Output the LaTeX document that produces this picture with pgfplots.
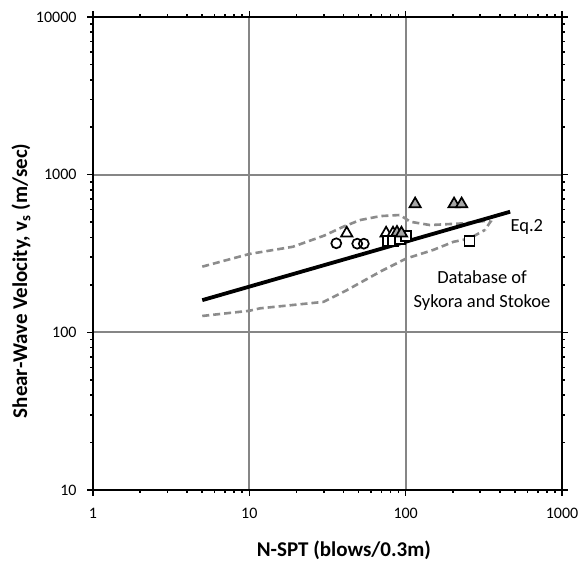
\documentclass[border=0pt]{standalone}
\usepackage{pgfplots}
\pgfplotsset{compat=1.18}
\usepackage{fontspec}
\setmainfont{Carlito}
\definecolor{gridgray}{RGB}{134,134,134}
\definecolor{dashgray}{RGB}{140,140,140}
\definecolor{markgray}{RGB}{166,166,166}
\begin{document}
\begin{tikzpicture}
\begin{axis}[
  scale only axis,
  width=469pt, height=473pt,
  xmode=log, ymode=log,
  xmin=1, xmax=1000, ymin=10, ymax=10000,
  xtick={1,10,100,1000}, xticklabels={1,10,100,1000},
  ytick={10,100,1000,10000}, yticklabels={10,100,1000,10000},
  minor tick num=0,
  minor xtick={}, minor ytick={},
  /pgf/number format/assume math mode=true,
  tick label style={font=\fontsize{16}{18}\selectfont},
  xticklabel style={yshift=-9pt},
  yticklabel style={xshift=-7pt},
  tick align=outside,
  major tick length=6pt,
  tick style={black, line width=1.6pt},
  axis line style={black, line width=2.6pt},
  grid=major,
  major grid style={gridgray, line width=1.9pt},
  xlabel={\bfseries N-SPT (blows/0.3m)},
  ylabel={\bfseries Shear-Wave Velocity, v\textsubscript{s} (m/sec)},
  label style={font=\fontsize{21}{24}\selectfont},
  xlabel style={at={(axis description cs:0.535,-0.127)}, anchor=center},
  ylabel style={at={(axis description cs:-0.1535,0.442)}, anchor=center},
  clip=false,
]
% upper boundary of database
\addplot[dashgray, line width=2.6pt, dash pattern=on 7pt off 4pt] coordinates {
 (5,261) (10,314) (19,349) (30,410) (40,468) (51,515) (69,546) (92,555)
 (107,503) (143,479) (233,491) (330,510) (349,503) (340,485) (322,446)
};
% lower boundary of database
\addplot[dashgray, line width=2.6pt, dash pattern=on 7pt off 4pt] coordinates {
 (5,127) (10,137) (11.7,142) (29.8,156) (42,185) (70,245) (101,294)
 (150,333) (202,375) (257,394) (313,440) (322,446)
};
% Eq.2
\addplot[black, line width=3.8pt] coordinates {(5,160) (466,582)};
% circles
\addplot[only marks, mark=o, mark size=5pt, mark options={black, line width=1.7pt, fill=white}] coordinates {
 (36,367) (49,365) (54,365)
};
% open triangles
\addplot[only marks, mark=triangle*, mark size=6.5pt, mark options={black, line width=1.7pt, fill=white}] coordinates {
 (42,425) (75,425) (83,425)
};
% squares
\addplot[only marks, mark=square*, mark size=5pt, mark options={black, line width=1.7pt, fill=white}] coordinates {
 (77,380) (83,380) (92,390) (101,410) (256,381)
};
% gray triangles
\addplot[only marks, mark=triangle*, mark size=6.5pt, mark options={black, line width=1.7pt, fill=markgray}] coordinates {
 (88,430) (94,425) (115,651) (204,651) (228,651)
};
\node[anchor=west, font=\fontsize{18.5}{22}\selectfont] at (axis cs:445,466) {Eq.2};
\node[align=center, font=\fontsize{18.5}{24}\selectfont] at (axis cs:308,183) {Database of\\Sykora and Stokoe};
\end{axis}
\pgfresetboundingbox
\path ([xshift=-93pt,yshift=-72pt]current axis.south west) rectangle ([xshift=18pt,yshift=17pt]current axis.north east);
\end{tikzpicture}
\end{document}
